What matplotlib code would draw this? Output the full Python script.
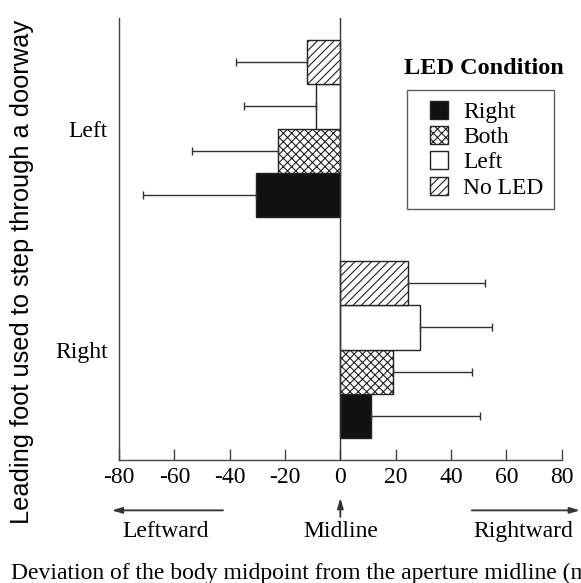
import matplotlib
matplotlib.use('Agg')
import matplotlib.pyplot as plt
from matplotlib.patches import Patch, Rectangle
from matplotlib.legend_handler import HandlerPatch
import numpy as np

# LED conditions, bottom to top within each group
conditions = ['Right', 'Both', 'Left', 'No LED']
feet = ['Right', 'Left']

# mean deviation (mm) and SD, per leading foot
right_foot_mean = [11.2, 19.2, 28.9, 24.5]
right_foot_sd = [39.3, 28.3, 25.9, 27.8]
left_foot_mean = [-30.4, -22.5, -8.7, -12.1]
left_foot_sd = [41.0, 31.0, 26.0, 25.5]

xticks = [-80, -60, -40, -20, 0, 20, 40, 60, 80]

face = ['#111111', 'white', 'white', 'white']
hatch = [None, 'xxxx', None, '////']

plt.rcParams['font.family'] = 'Liberation Serif'
plt.rcParams['hatch.linewidth'] = 0.8

fig = plt.figure(figsize=(5.81, 5.83), dpi=100)
ax = fig.add_axes([0.2048, 0.211, 0.762, 0.758])

pos_right = np.arange(1, 5)
pos_left = np.arange(6, 10)
ekw = dict(ecolor='#333333', elinewidth=1, capsize=3, capthick=1)

for i in range(4):
    ax.barh(pos_right[i], right_foot_mean[i], height=1, color=face[i], hatch=hatch[i],
            edgecolor='#222222', linewidth=1, xerr=[[0], [right_foot_sd[i]]], error_kw=ekw)
    ax.barh(pos_left[i], left_foot_mean[i], height=1, color=face[i], hatch=hatch[i],
            edgecolor='#222222', linewidth=1, xerr=[[left_foot_sd[i]], [0]], error_kw=ekw)

ax.axvline(0, color='#333333', linewidth=1)
ax.set_xlim(-80, 80)
ax.set_ylim(0, 10)
ax.set_xticks(xticks)
ax.set_xticklabels([str(t) for t in xticks], fontsize=17)
ax.set_yticks([2.5, 7.5])
ax.set_yticklabels(feet, fontsize=17)
ax.tick_params(axis='x', direction='in', length=8, width=1, color='#444444', pad=5)
ax.tick_params(axis='y', length=0, pad=8)
ax.spines['top'].set_visible(False)
ax.spines['right'].set_visible(False)
for s in ['left', 'bottom']:
    ax.spines[s].set_color('#444444')
    ax.spines[s].set_linewidth(1)

# direction arrows below the axis
tr = ax.get_xaxis_transform()
arr = dict(arrowstyle='-|>,head_length=0.6,head_width=0.18', color='#333333', lw=1.3,
           shrinkA=0, shrinkB=0)
ax.annotate('', xy=(-82.6, -0.114), xytext=(-42.4, -0.114), xycoords=tr, textcoords=tr,
            arrowprops=arr, annotation_clip=False)
ax.annotate('', xy=(0, -0.086), xytext=(0, -0.129), xycoords=tr, textcoords=tr,
            arrowprops=arr, annotation_clip=False)
ax.annotate('', xy=(86.6, -0.114), xytext=(47.5, -0.114), xycoords=tr, textcoords=tr,
            arrowprops=arr, annotation_clip=False)
ax.text(-63, -0.161, 'Leftward', transform=tr, ha='center', va='center', fontsize=17)
ax.text(0, -0.161, 'Midline', transform=tr, ha='center', va='center', fontsize=17)
ax.text(66, -0.161, 'Rightward', transform=tr, ha='center', va='center', fontsize=17)

fig.text(0.019, 1 - 573.5 / 583, 'Deviation of the body midpoint from the aperture midline (mm)',
         ha='left', va='center', fontsize=17)
fig.text(0.038, 0.533, 'Leading foot used to step through a doorway', rotation=90,
         ha='center', va='center', fontsize=18.3, family='Liberation Sans')


# square legend swatch pushed to the right side of the handle box
def square_swatch(legend, orig_handle, xdescent, ydescent, width, height, fontsize):
    return Rectangle((-xdescent + width - height, -ydescent), height, height)


handles = [Patch(facecolor=face[i], hatch=hatch[i], edgecolor='#222222', linewidth=1)
           for i in range(4)]
leg = ax.legend(handles, conditions, loc='upper left', bbox_to_anchor=(407 / 581, 1 - 90 / 583),
                bbox_transform=fig.transFigure, fontsize=17, frameon=True, fancybox=False,
                handlelength=1.29, handleheight=0.8, labelspacing=0.13, borderpad=0.45,
                handletextpad=0.63, borderaxespad=0,
                handler_map={Patch: HandlerPatch(patch_func=square_swatch)})
leg.get_frame().set_edgecolor('#333333')
leg.get_frame().set_linewidth(1)
fig.text(484 / 581, 1 - 68 / 583, 'LED Condition', ha='center', va='center',
         fontsize=17.5, fontweight='bold')

plt.savefig('out.png', dpi=100)
